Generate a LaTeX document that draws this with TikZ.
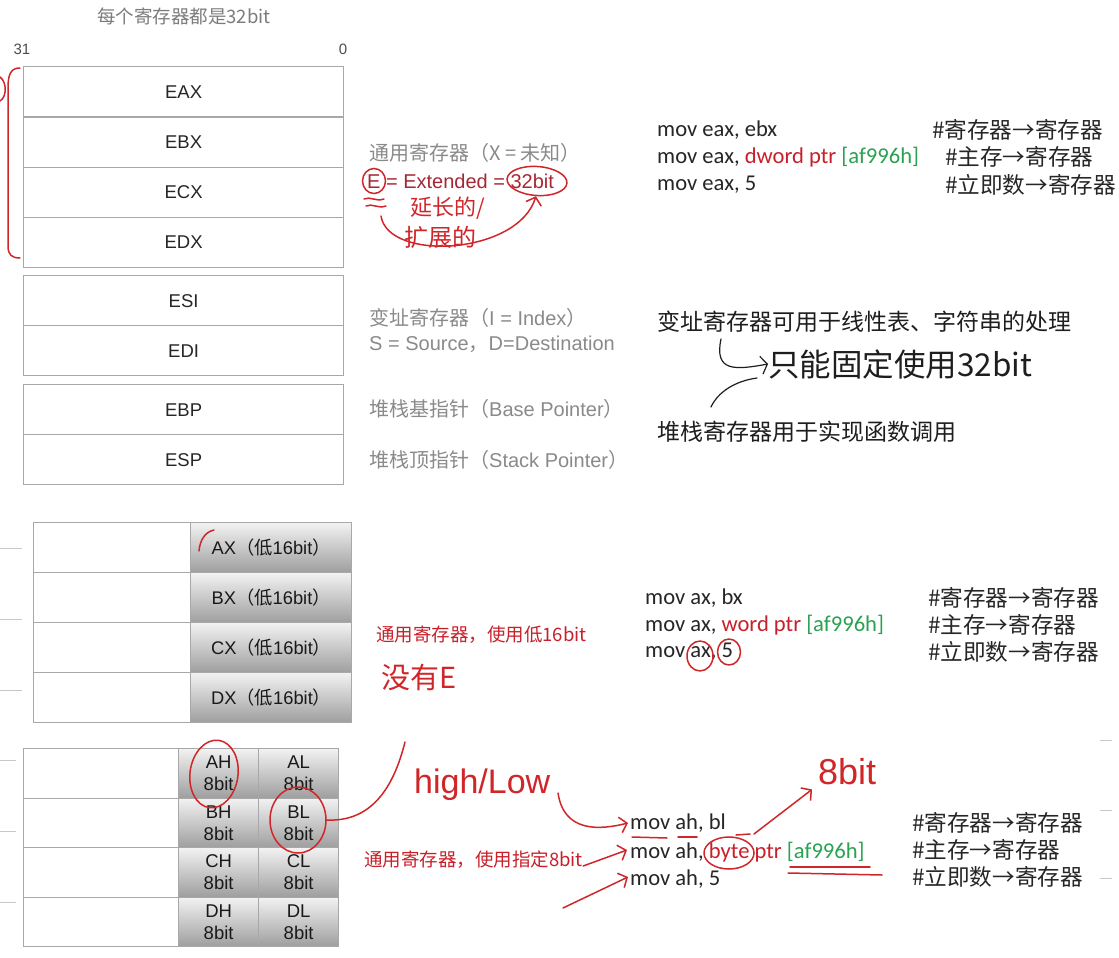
\documentclass[tikz,border=0pt]{standalone}
\usepackage{fontspec}
\setmainfont{Liberation Sans}
\newfontfamily\cjk{Noto Sans CJK SC}
\newfontfamily\codefont{Carlito}
\usetikzlibrary{arrows.meta,shapes.geometric}
\definecolor{boxgray}{HTML}{A8A8A8}
\definecolor{lblgray}{HTML}{8A8A8A}
\definecolor{darkred}{HTML}{A62833}
\definecolor{pen}{HTML}{D0262A}
\definecolor{ink}{HTML}{1E1E1E}
\definecolor{codeblack}{HTML}{262626}
\definecolor{codered}{HTML}{C8202A}
\definecolor{codegreen}{HTML}{2BA152}
\definecolor{tickgray}{HTML}{C8C8C8}
\newcommand\fs[1]{\fontsize{#1}{#1}\selectfont}
\newcommand\fsb[2]{\fontsize{#1}{#2}\selectfont}
\tikzset{
  regcell/.style={draw=boxgray, line width=1.3pt, inner sep=0pt, anchor=north west,
    minimum width=320pt, minimum height=50pt, font=\fs{18.5}, text=black!85},
  blankcell/.style={draw=boxgray, line width=1.3pt, inner sep=0pt, anchor=north west, fill=white},
  shadecell/.style={draw=boxgray, line width=1.3pt, inner sep=0pt, anchor=north west,
    top color=white!95!black, middle color=white!86!black, bottom color=white!62!black,
    text=black!90, align=center},
  lbl/.style={anchor=west, inner sep=0pt, text=lblgray, font=\fs{20}},
  codeline/.style={anchor=west, inner sep=0pt, text=codeblack, font=\codefont\fs{22.6}},
  cmt/.style={anchor=west, inner sep=0pt, text=codeblack, font=\cjk\fs{22.6}},
  note/.style={anchor=west, inner sep=0pt, text=ink, font=\cjk\fs{23}},
  redlbl/.style={anchor=west, inner sep=0pt, text=codered, font=\cjk\fs{18.5}},
  hand/.style={anchor=west, inner sep=0pt, text=pen, font=\cjk\fs{24}},
  penline/.style={draw=pen, line width=1.5pt, line cap=round, line join=round},
  penarrow/.style={penline, -{Straight Barb[length=7pt,width=16pt]}},
  inkline/.style={draw=ink, line width=1.2pt, line cap=round},
  tickline/.style={draw=tickgray, line width=1pt},
}
\begin{document}
\begin{tikzpicture}[x=1pt,y=-1pt]
\useasboundingbox[fill=white] (0,0) rectangle (1119,958);

% ---------- top: 32 bit registers ----------
\node[lbl, text=lblgray!90!black, font=\fs{18.5}] (title) at (97,16) {\cjk 每个寄存器都是32bit};
\node[inner sep=0pt, text=black!70, font=\fs{15}] (b31) at (22,49) {31};
\node[inner sep=0pt, text=black!70, font=\fs{15}] (b0) at (343,49) {0};

\node[regcell, minimum height=50.25pt] (EAX) at (23,66) {EAX};
\node[regcell, minimum height=50.25pt] (EBX) at (23,116.25) {EBX};
\node[regcell, minimum height=50.25pt] (ECX) at (23,166.5) {ECX};
\node[regcell, minimum height=50.25pt] (EDX) at (23,216.75) {EDX};
\node[regcell] (ESI) at (23,275) {ESI};
\node[regcell] (EDI) at (23,325) {EDI};
\node[regcell] (EBP) at (23,384) {EBP};
\node[regcell] (ESP) at (23,434) {ESP};

\node[lbl] (gen) at (369,153) {\cjk 通用寄存器（X = 未知）};
\node[lbl, text=darkred] (ext) at (367,181) {E = Extended = 32bit};
\node[lbl] (idx) at (369,318) {{\cjk 变址寄存器（}I = Index{\cjk ）}};
\node[lbl] (sd) at (369,344) {S = Source{\cjk ，}D=Destination};
\node[lbl] (bp) at (369,409) {{\cjk 堆栈基指针（}Base Pointer{\cjk ）}};
\node[lbl] (sp) at (369,460) {{\cjk 堆栈顶指针（}Stack Pointer{\cjk ）}};

\node[codeline] (t1) at (657,130) {mov eax, ebx};
\node[codeline] (t2) at (657,157) {mov eax, \textcolor{codered}{dword ptr} \textcolor{codegreen}{[af996h]}};
\node[codeline] (t3) at (657,185) {mov eax, 5};
\node[cmt] (tc1) at (932,130) {\#寄存器→寄存器};
\node[cmt] (tc2) at (945,157) {\#主存→寄存器};
\node[cmt] (tc3) at (945,185) {\#立即数→寄存器};

\node[note] (n1) at (657,322) {变址寄存器可用于线性表、字符串的处理};
\node[note] (n2) at (657,432) {堆栈寄存器用于实现函数调用};

% handwriting (top)
\draw[penline] (20,68) .. controls (11,68) and (8,74) .. (8,88) -- (8,246) .. controls (8,255) and (12,258) .. (20,258);
\draw[penline] (0,77) .. controls (7,82) and (7,97) .. (0,101);
\node[draw=pen, line width=1.5pt, ellipse, minimum width=23pt, minimum height=25pt, inner sep=0pt] (Ecirc) at (374,181) {};
\node[draw=pen, line width=1.5pt, ellipse, minimum width=60pt, minimum height=29pt, inner sep=0pt, rotate=-4] (bitcirc) at (537,181) {};
\draw[penline] (364,199) .. controls (370,196) and (376,202) .. (384,199);
\draw[penline] (366,206) .. controls (372,203) and (378,209) .. (386,206);
\coordinate (curveStart) at (381,216);
\draw[penarrow] (curveStart) .. controls (388,262) and (518,255) .. (bitcirc.south);
\node[hand, font=\cjk\fs{22}] (yan) at (410,208) {延长的/};
\node[hand, font=\cjk\fs{24}] (kuo) at (404,237) {扩展的};

\node[anchor=west, inner sep=0pt, text=ink, font=\cjk\fs{31.5}] (hw) at (768,364) {只能固定使用32bit};
\draw[inkline, -{Straight Barb[length=6pt,width=18pt]}] (721,339) .. controls (714,372) and (735,370) .. (hw.west);
\coordinate (hookB) at (711,407);
\draw[inkline] (hookB) .. controls (718,392) and (735,381) .. (757,378);

% ---------- middle: 16 bit ----------
\draw[tickline] (0,548) -- (22,548);
\draw[tickline] (0,619) -- (22,619);
\draw[tickline] (0,690) -- (22,690);
\foreach \r/\y in {A/522,B/572,C/622,D/672}{
  \node[blankcell, minimum width=157pt, minimum height=50pt] (\r w) at (33,\y) {};
  \node[shadecell, minimum width=161pt, minimum height=50pt, font=\fs{18.3}] (\r X) at (190,\y) {\r X{\cjk（低}16bit{\cjk ）}};
}
\draw[penline] (199,551) .. controls (200,540) and (205,532) .. (214,530);

\node[redlbl] (g16) at (376,635) {通用寄存器，使用低16bit};
\node[hand, font=\cjk\fs{29}] (noE) at (381,677) {没有E};

\node[codeline] (m1) at (645,598) {mov ax, bx};
\node[codeline] (m2) at (645,625) {mov ax, \textcolor{codered}{word ptr} \textcolor{codegreen}{[af996h]}};
\node[codeline] (m3) at (645,652) {mov ax, 5};
\node[cmt] (mc1) at (928,598) {\#寄存器→寄存器};
\node[cmt] (mc2) at (928,625) {\#主存→寄存器};
\node[cmt] (mc3) at (928,652) {\#立即数→寄存器};
\draw[penline] (700,656) ellipse [x radius=13, y radius=15];
\draw[penline] (729,652) ellipse [x radius=11.5, y radius=13];

% ---------- bottom: 8 bit ----------
\draw[tickline] (0,760) -- (16,760);
\draw[tickline] (0,831) -- (16,831);
\draw[tickline] (0,902) -- (16,902);
\draw[tickline] (1100,740) -- (1112,740);
\draw[tickline] (1100,810) -- (1112,810);
\draw[tickline] (1100,878) -- (1112,878);
\foreach \r/\y in {A/748,B/797.5,C/847,D/896.5}{
  \node[blankcell, minimum width=155pt, minimum height=49.5pt] (\r 8) at (23,\y) {};
  \node[shadecell, minimum width=80pt, minimum height=49.5pt, font=\fsb{18.5}{22}] (\r H) at (178,\y) {\r H\\8bit};
  \node[shadecell, minimum width=80pt, minimum height=49.5pt, font=\fsb{18.5}{22}] (\r L) at (258,\y) {\r L\\8bit};
}
\node[draw=pen, line width=1.5pt, ellipse, minimum width=48pt, minimum height=68pt, inner sep=0pt, rotate=-8] (AHc) at (214,774) {};
\node[draw=pen, line width=1.5pt, ellipse, minimum width=56pt, minimum height=66pt, inner sep=0pt] (BLc) at (298,820) {};
\coordinate (hlTop) at (405,742);
\draw[penline] (BLc.east) .. controls (370,822) and (393,790) .. (hlTop);
\node[hand, font=\fs{34}] (hl) at (414,785) {high/Low};

\node[redlbl] (g8) at (364,860) {通用寄存器，使用指定8bit};

\node[codeline] (l1) at (630,823) {mov ah, bl};
\node[codeline] (l2) at (630,852) {mov ah, \textcolor{codered}{byte ptr} \textcolor{codegreen}{[af996h]}};
\node[codeline] (l3) at (630,879) {mov ah, 5};
\node[cmt] (lc1) at (912,823) {\#寄存器→寄存器};
\node[cmt] (lc2) at (912,850) {\#主存→寄存器};
\node[cmt] (lc3) at (912,877) {\#立即数→寄存器};

\coordinate (hlEnd) at (558,793);
\draw[penarrow] (hlEnd) .. controls (564,833) and (600,830) .. ([xshift=-2pt]l1.west);
\draw[penarrow] ([yshift=-6pt]g8.east) -- ([xshift=-3pt,yshift=2pt]l2.west);
\coordinate (a3) at (563,908);
\draw[penarrow] (a3) -- ([xshift=-2pt,yshift=2pt]l3.west);

\draw[penline] (632,837) -- (667,838);
\draw[penline] (678,837) -- (697,837);
\draw[penline] (736,835) -- (750,834);
\draw[penline] (729,853) ellipse [x radius=25, y radius=16];
\draw[penline] (790,867) -- (870,867);
\draw[penline] (788,873) -- (882,875);

\node[hand, font=\fs{36}] (eightbit) at (818,772) {8bit};
\coordinate (byteArrow) at (754,834);
\draw[penarrow] (byteArrow) -- ([xshift=-6pt,yshift=-4pt]eightbit.south west);
\end{tikzpicture}
\end{document}
